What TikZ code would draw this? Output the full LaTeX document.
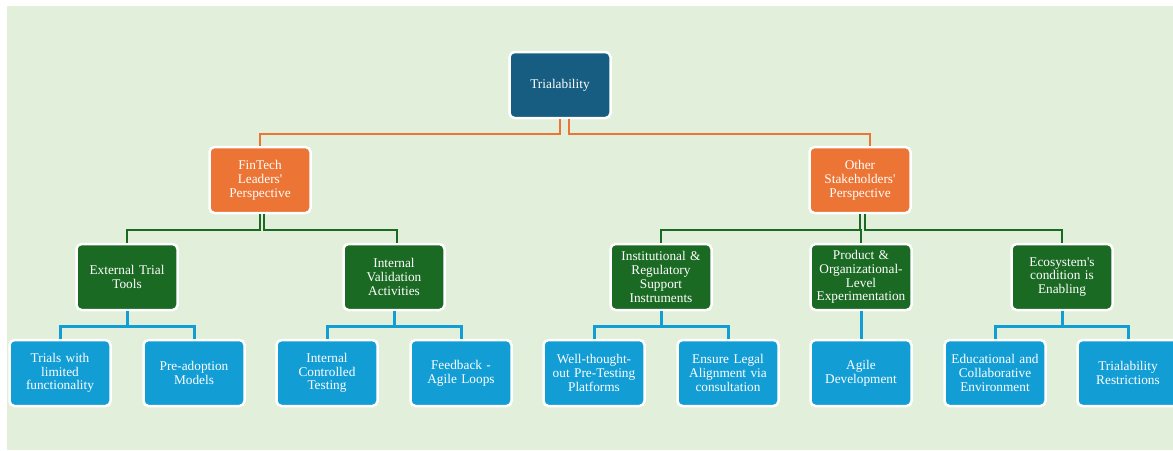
\documentclass[tikz,border=0pt]{standalone}
\usepackage{fontspec}
\setmainfont{Liberation Serif}[Ligatures=TeXOff]
\definecolor{bgGreen}{HTML}{E2EFDA}
\definecolor{topBlue}{HTML}{175D81}
\definecolor{persOrange}{HTML}{EC7435}
\definecolor{catGreen}{HTML}{1B6A24}
\definecolor{itemBlue}{HTML}{129ED5}
\tikzset{
  box/.style={rounded corners=5pt, draw=white, line width=2.5pt,
    minimum width=101pt, minimum height=66pt, text width=97pt,
    align=center, inner sep=0pt, text=white,
    font=\fontsize{13.3}{13.8}\selectfont},
  orangeline/.style={draw=persOrange, line width=2pt},
  greenline/.style={draw=catGreen, line width=2pt},
  blueline/.style={draw=itemBlue, line width=3pt}
}
\begin{document}
\begin{tikzpicture}[x=1pt, y=-1pt]

    % Canvas
    \useasboundingbox (0,0) rectangle (1173,450);
    \fill[bgGreen] (7,6) rectangle (1173,450);

    % Top
    \node[box, fill=topBlue] (trial) at (560,85) {Trialability};

    % Perspectives
    \node[box, fill=persOrange] (fin) at (260,180) {FinTech\\Leaders'\\Perspective};
    \node[box, fill=persOrange] (oth) at (860,180) {Other\\Stakeholders'\\Perspective};

    % Categories
    \node[box, fill=catGreen] (ext) at (127,277) {External Trial\\Tools};
    \node[box, fill=catGreen] (intval) at (394,277) {Internal\\Validation\\Activities};
    \node[box, fill=catGreen] (inst) at (661,277) {Institutional \&\\Regulatory\\Support\\Instruments};
    \node[box, fill=catGreen] (prod) at (861,277) {Product \&\\Organizational-\\Level\\Experimentation};
    \node[box, fill=catGreen] (eco) at (1062,277) {Ecosystem's\\condition is\\Enabling};

    % Items
    \node[box, fill=itemBlue] (lim) at (60,373) {Trials with\\limited\\functionality};
    \node[box, fill=itemBlue] (pre) at (194,373) {Pre-adoption\\Models};
    \node[box, fill=itemBlue] (ict) at (327,373) {Internal\\Controlled\\Testing};
    \node[box, fill=itemBlue] (fb) at (461,373) {Feedback -\\Agile Loops};
    \node[box, fill=itemBlue] (wtp) at (594,373) {Well-thought-\\out Pre-Testing\\Platforms};
    \node[box, fill=itemBlue] (legal) at (728,373) {Ensure Legal\\Alignment via\\consultation};
    \node[box, fill=itemBlue] (agile) at (861,373) {Agile\\Development};
    \node[box, fill=itemBlue] (edu) at (995,373) {Educational and\\Collaborative\\Environment};
    \node[box, fill=itemBlue] (restr) at (1128,373) {Trialability\\Restrictions};

    % Orange links
    \draw[orangeline] (trial.south) -- ++(0,15) -| (fin.north);
    \draw[orangeline] ([xshift=9]trial.south) -- ++(0,15) -| ([xshift=10]oth.north);

    % Green links
    \draw[greenline] (fin.south) -- ++(0,16) -| (ext.north);
    \draw[greenline] ([xshift=3.5]fin.south) -- ++(0,16) -| ([xshift=3]intval.north);
    \draw[greenline] (oth.south) -- ++(0,16) -| (inst.north);
    \draw[greenline] ([xshift=5]oth.south) -- ++(0,16) -| (eco.north);
    \draw[greenline] (prod.north) -- ++(0,-14);

    % Blue links
    \draw[blueline] (ext.south) -- ++(0,15) -| (lim.north);
    \draw[blueline] (ext.south) -- ++(0,15) -| (pre.north);
    \draw[blueline] (intval.south) -- ++(0,15) -| (ict.north);
    \draw[blueline] (intval.south) -- ++(0,15) -| (fb.north);
    \draw[blueline] (inst.south) -- ++(0,15) -| (wtp.north);
    \draw[blueline] (inst.south) -- ++(0,15) -| (legal.north);
    \draw[blueline] (prod.south) -- (agile.north);
    \draw[blueline] (eco.south) -- ++(0,15) -| (edu.north);
    \draw[blueline] (eco.south) -- ++(0,15) -| (restr.north);

\end{tikzpicture}
\end{document}
